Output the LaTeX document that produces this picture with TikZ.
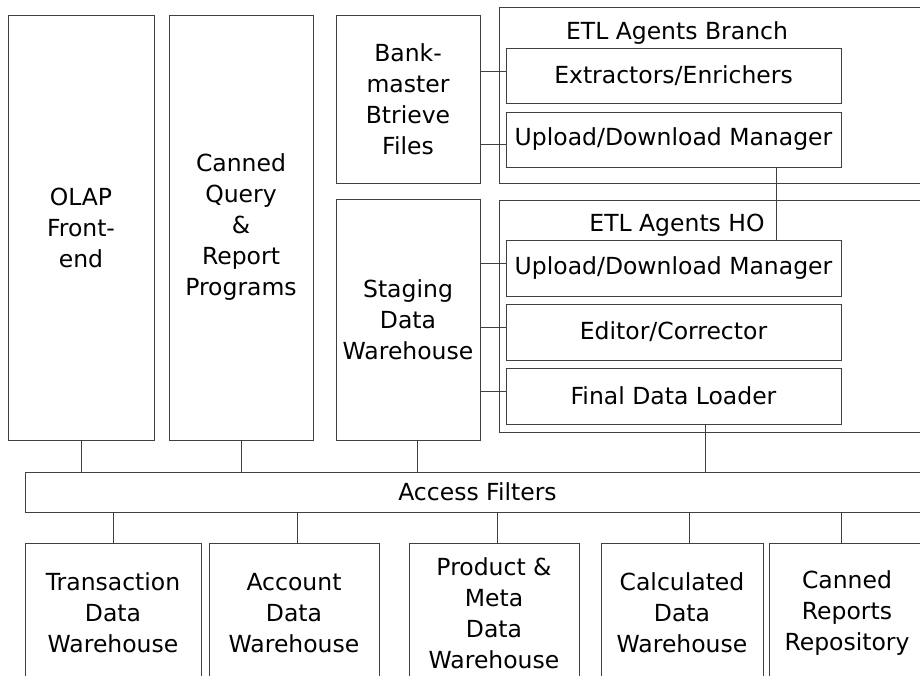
\documentclass[tikz,border=0pt]{standalone}
\usepackage{fontspec}
\setmainfont{DejaVu Sans}
\usepackage{xcolor}
\definecolor{linea}{RGB}{64,64,64}
\usepackage{tikz}
\usetikzlibrary{positioning}

\tikzset{
  caja/.style={draw=linea, line width=1pt, align=center, inner sep=0pt,
    font=\fontsize{23.5}{31}\selectfont},
  grupo/.style={draw=linea, line width=1pt, inner sep=0pt},
  titulo/.style={anchor=base, inner sep=0pt, font=\fontsize{23.5}{31}\selectfont},
  enlace/.style={draw=linea, line width=1pt}
}

\begin{document}
\begin{tikzpicture}[x=1pt, y=-1pt]
  \useasboundingbox (0,0) rectangle (920,675);
  \clip (0,0) rectangle (920,675);

  % Columnas
  \node[caja, minimum width=146pt, minimum height=425pt] (olap) at (81,227.5) {OLAP\\Front-\\end};
  \node[caja, minimum width=144pt, minimum height=425pt] (canned) at (241,227.5) {Canned\\Query\\\&\\Report\\Programs};
  \node[caja, minimum width=144pt, minimum height=168pt] (bank) at (408,99) {Bank-\\master\\Btrieve\\Files};
  \node[caja, minimum width=144pt, minimum height=241pt] (staging) at (408,319.5) {Staging\\Data\\Warehouse};

  % Agentes ETL (sucursal)
  \node[grupo, minimum width=431pt, minimum height=176pt] (branch) at (714.5,95) {};
  \node[titulo] (branchtit) at (677,39) {ETL Agents Branch};
  \node[caja, minimum width=335pt, minimum height=55pt] (extr) at (673.5,75.5) {Extractors/Enrichers};
  \node[caja, minimum width=335pt, minimum height=55pt] (upbr) at (673.5,139.5) {Upload/Download Manager};

  % Agentes ETL (HO)
  \node[grupo, minimum width=431pt, minimum height=232pt] (ho) at (714.5,316) {};
  \node[titulo] (hotit) at (677,231) {ETL Agents HO};
  \node[caja, minimum width=335pt, minimum height=56pt] (upho) at (673.5,268) {Upload/Download Manager};
  \node[caja, minimum width=335pt, minimum height=56pt] (editor) at (673.5,332) {Editor/Corrector};
  \node[caja, minimum width=335pt, minimum height=56pt] (final) at (673.5,396) {Final Data Loader};

  % Filtros
  \node[caja, minimum width=905pt, minimum height=40pt] (access) at (477.5,492) {Access Filters};

  % Almacenes
  \node[caja, minimum width=176pt, minimum height=140pt] (trans) at (113,613) {Transaction\\Data\\Warehouse};
  \node[caja, minimum width=170pt, minimum height=140pt] (acct) at (294,613) {Account\\Data\\Warehouse};
  \node[caja, minimum width=170pt, minimum height=140pt] (prod) at (494,613) {Product \&\\Meta\\Data\\Warehouse};
  \node[caja, minimum width=162pt, minimum height=140pt] (calc) at (682,613) {Calculated\\Data\\Warehouse};
  \node[caja, minimum width=156pt, minimum height=140pt] (repo) at (847,613) {Canned\\Reports\\Repository};

  % Conexiones
  \draw[enlace] ([yshift=4pt]extr.west) coordinate (e1) -- (bank.east |- e1);
  \draw[enlace] ([yshift=-4.5pt]upbr.west) coordinate (e2) -- (bank.east |- e2);
  \draw[enlace] ([xshift=102.5pt]upbr.south) coordinate (ub) -- (ub |- upho.north);
  \foreach \n in {upho, editor, final}
    \draw[enlace] ([yshift=4.5pt]\n.west) coordinate (e) -- (staging.east |- e);

  \draw[enlace] (olap.south) -- (olap.south |- access.north);
  \draw[enlace] (canned.south) -- (canned.south |- access.north);
  \draw[enlace] ([xshift=9pt]staging.south) coordinate (sw) -- (sw |- access.north);
  \draw[enlace] ([xshift=31.5pt]final.south) coordinate (fl) -- (fl |- access.north);

  \foreach \n/\d in {trans/0, acct/3, prod/3, calc/7, repo/-6}
    \draw[enlace] ([xshift=\d pt]\n.north) coordinate (c) -- (c |- access.south);
\end{tikzpicture}
\end{document}
